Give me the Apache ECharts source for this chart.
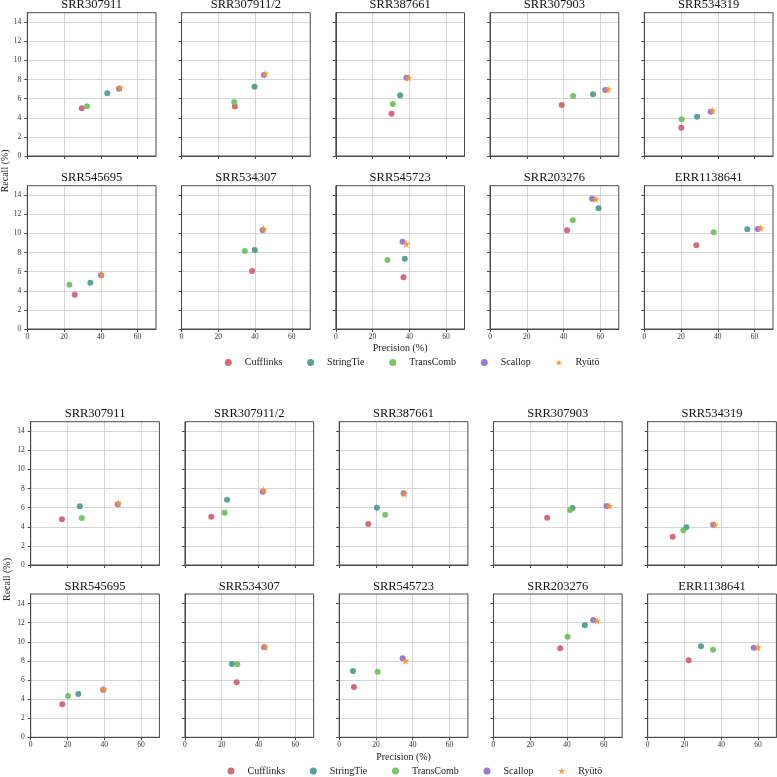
<!DOCTYPE html>
<html>
<head>
<meta charset="utf-8">
<script src="https://cdn.jsdelivr.net/npm/echarts@6/dist/echarts.min.js"></script>
<style>
html,body{margin:0;padding:0;background:#fff;}
#chart{width:777px;height:777px;}
</style>
</head>
<body>
<div id="chart"></div>
<script>
// ---- data ----
const samples = ['SRR307911','SRR307911/2','SRR387661','SRR307903','SRR534319','SRR545695','SRR534307','SRR545723','SRR203276','ERR1138641'];
const methods = ['Cufflinks','StringTie','TransComb','Scallop','Ryūtō'];
const xTicks = [0,20,40,60];
const yTicks = [0,2,4,6,8,10,12,14];

// block A (top figure): [precision, recall] per sample
const cufflinksA = [[29.6,5.0],[29.0,5.17],[30.3,4.43],[39.0,5.34],[20.1,2.96],[25.8,3.59],[38.4,6.07],[36.8,5.41],[41.9,10.33],[28.3,8.76]];
const stringtieA = [[43.5,6.57],[39.7,7.26],[35.0,6.35],[56.0,6.46],[28.7,4.12],[34.3,4.85],[39.8,8.27],[37.5,7.36],[59.0,12.63],[56.0,10.43]];
const transcombA = [[32.5,5.2],[28.6,5.65],[31.0,5.45],[45.2,6.28],[20.3,3.84],[22.9,4.64],[34.4,8.17],[28.1,7.22],[45.0,11.38],[37.7,10.12]];
const scallopA = [[49.9,7.05],[44.8,8.48],[38.4,8.2],[62.7,6.9],[36.1,4.64],[40.1,5.62],[44.1,10.36],[36.3,9.14],[55.5,13.64],[61.7,10.47]];
const ryutoA = [[50.4,7.15],[45.5,8.62],[39.5,8.17],[64.2,6.98],[37.2,4.75],[40.5,5.72],[44.6,10.47],[38.4,8.9],[57.5,13.6],[63.3,10.57]];

// block B (bottom figure)
const cufflinksB = [[17.0,4.78],[14.3,5.06],[15.8,4.29],[29.2,4.95],[13.6,2.96],[17.2,3.45],[28.1,5.76],[8.0,5.27],[36.3,9.31],[22.3,8.06]];
const stringtieB = [[26.7,6.14],[22.9,6.84],[20.5,6.0],[43.0,5.97],[21.0,3.95],[25.9,4.53],[25.6,7.67],[7.5,6.94],[49.7,11.72],[29.0,9.52]];
const transcombB = [[27.8,4.92],[21.6,5.48],[25.0,5.27],[41.7,5.76],[19.4,3.63],[20.3,4.32],[28.5,7.64],[20.9,6.87],[40.3,10.53],[35.5,9.17]];
const scallopB = [[47.3,6.35],[42.3,7.68],[35.0,7.5],[61.5,6.18],[35.6,4.22],[39.4,4.98],[43.0,9.42],[34.5,8.27],[54.2,12.28],[57.7,9.38]];
const ryutoB = [[47.7,6.46],[42.7,7.82],[35.5,7.47],[63.0,6.18],[36.5,4.22],[39.7,5.05],[43.6,9.49],[36.1,8.02],[56.4,12.2],[60.0,9.42]];

// ---- styling ----
const FONT = '"Liberation Serif","Times New Roman",serif';
const colors = ['#cf5f6c','#4b9a8b','#6cbf5d','#9470c6','#f39431'];
const STAR = 'path://M50,0 L61.2,34.5 L97.6,34.5 L68.2,55.9 L79.4,90.5 L50,69.1 L20.6,90.5 L31.8,55.9 L2.4,34.5 L38.8,34.5 Z';
const symbols = ['circle','circle','circle','circle',STAR];
const sizes = [6,6,6,6,8];
const blockData = [
  [cufflinksA, stringtieA, transcombA, scallopA, ryutoA],
  [cufflinksB, stringtieB, transcombB, scallopB, ryutoB]
];
const blocks = [
  {left0: 27.3, tops: [12.7, 185.7], legendLeft: 224.8, legendTop: 357.5, xlabY: 348.5},
  {left0: 30.7, tops: [421.7, 594.0], legendLeft: 227.5, legendTop: 765.9, xlabY: 757}
];
const STEP = 154.25, W = 128.7, H = 143.3;
const SPINE = '#4a4a4a', GRIDC = '#d6d6d6';

const grids = [], xAxes = [], yAxes = [], series = [], graphics = [], legends = [];
let gi = 0;
blocks.forEach((b, bi) => {
  for (let r = 0; r < 2; r++) {
    for (let c = 0; c < 5; c++) {
      const si = r * 5 + c;
      const left = b.left0 + c * STEP, top = b.tops[r];
      grids.push({left: left, top: top, width: W, height: H, containLabel: false,
        show: true, borderColor: SPINE, borderWidth: 1, backgroundColor: 'transparent', z: 1});
      xAxes.push({type: 'value', gridIndex: gi, min: 0, max: 70, interval: 20,
        axisLine: {show: true, onZero: false, lineStyle: {color: SPINE, width: 1}},
        axisTick: {show: true, inside: false, length: 3, customValues: xTicks, lineStyle: {color: SPINE, width: 1}},
        axisLabel: {show: r === 1, customValues: xTicks, fontFamily: FONT, fontSize: 7.5, color: '#333', margin: 4},
        splitLine: {show: true, lineStyle: {color: GRIDC, width: 1}}
      });
      yAxes.push({type: 'value', gridIndex: gi, min: 0, max: 15, interval: 2,
        axisLine: {show: true, onZero: false, lineStyle: {color: SPINE, width: 1}},
        axisTick: {show: true, inside: false, length: 3, customValues: yTicks, lineStyle: {color: SPINE, width: 1}},
        axisLabel: {show: c === 0, customValues: yTicks, fontFamily: FONT, fontSize: 7.5, color: '#333', margin: 6},
        splitLine: {show: true, lineStyle: {color: GRIDC, width: 1}}
      });
      methods.forEach((m, mi) => {
        series.push({type: 'scatter', name: m, xAxisIndex: gi, yAxisIndex: gi,
          symbol: symbols[mi], symbolSize: sizes[mi],
          itemStyle: {color: colors[mi], opacity: 0.92},
          data: [blockData[bi][mi][si]], z: 3 + mi * 0.01, silent: true});
      });
      graphics.push({type: 'text', x: left + W / 2, y: top - 7.6, silent: true,
        style: {text: samples[si], font: '12.5px ' + FONT, fill: '#111',
          align: 'center', verticalAlign: 'middle', textAlign: 'center', textVerticalAlign: 'middle'}});
      gi++;
    }
  }
  const blockCenter = b.left0 + (4 * STEP + W) / 2;
  graphics.push({type: 'text', x: blockCenter, y: b.xlabY, silent: true,
    style: {text: 'Precision (%)', font: '10px ' + FONT, fill: '#222',
      align: 'center', verticalAlign: 'middle', textAlign: 'center', textVerticalAlign: 'middle'}});
  const midY = (b.tops[0] + b.tops[1] + H) / 2;
  graphics.push({type: 'text', x: 5.5 + bi * 1.5, y: midY, rotation: Math.PI / 2, silent: true,
    style: {text: 'Recall (%)', font: '10px ' + FONT, fill: '#222',
      align: 'center', verticalAlign: 'middle', textAlign: 'center', textVerticalAlign: 'middle'}});
  legends.push({show: true, orient: 'horizontal', left: b.legendLeft, top: b.legendTop, padding: 0,
    itemWidth: 7, itemHeight: 7, itemGap: 24.7, selectedMode: false,
    textStyle: {fontFamily: FONT, fontSize: 10, color: '#222', padding: [0, 0, 0, 8]},
    data: methods.map((m, mi) => ({name: m, icon: symbols[mi] === 'circle' ? 'circle' : STAR,
      itemStyle: {color: colors[mi]}}))
  });
});

const chart = echarts.init(document.getElementById('chart'), null, {renderer: 'canvas'});
chart.setOption({
  animation: false,
  backgroundColor: '#fff',
  grid: grids, xAxis: xAxes, yAxis: yAxes, series: series,
  legend: legends, graphic: graphics
});
</script>
</body>
</html>
